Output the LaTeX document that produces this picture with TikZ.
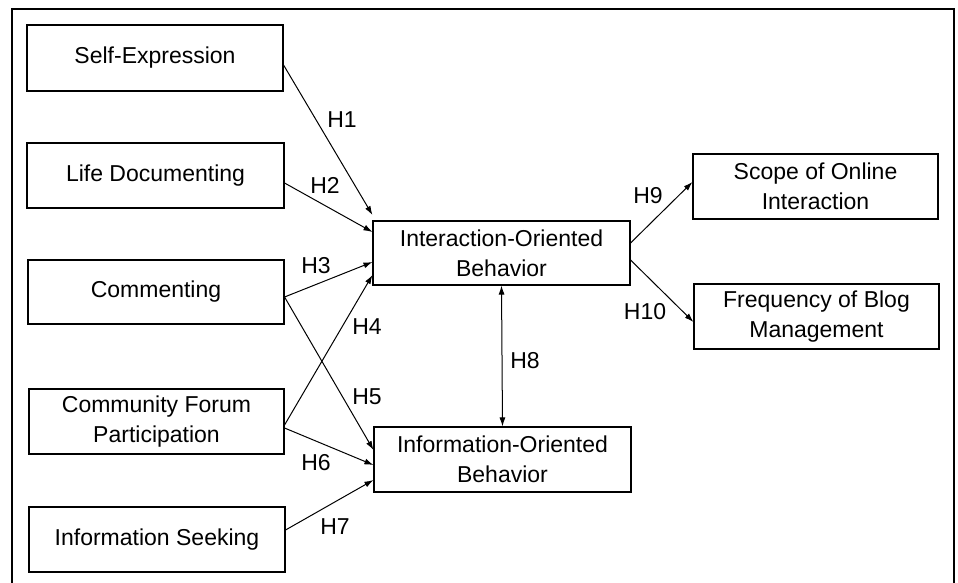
\documentclass[tikz,border=0pt]{standalone}
\usepackage{fontspec}
\setmainfont{Liberation Sans}
\usetikzlibrary{arrows.meta}
\begin{document}
\begin{tikzpicture}[x=1pt,y=-1pt,
  box/.style={draw, line width=1.1pt, inner sep=0pt, align=center,
    font=\fontsize{23}{30}\selectfont},
  lab/.style={font=\fontsize{23}{30}\selectfont, inner sep=0pt},
  arr/.style={line width=1pt, -{Latex[length=9pt,width=6pt]}},
  darr/.style={line width=1pt, {Latex[length=9pt,width=6pt]}-{Latex[length=9pt,width=6pt]}}]
\useasboundingbox (0,0) rectangle (958,583);
% outer frame
\draw[line width=1.4pt] (12,590) -- (12,9) -- (954,9) -- (954,590);
% boxes
\node[box, minimum width=256pt, minimum height=66pt] (se) at (155,58) {Self-Expression};
\node[box, minimum width=257pt, minimum height=65pt] (ld) at (155.5,175.5) {Life Documenting};
\node[box, minimum width=256pt, minimum height=64pt] (cm) at (156,292) {Commenting};
\node[box, minimum width=255pt, minimum height=65pt] (cf) at (156.5,421.5) {Community Forum\\Participation};
\node[box, minimum width=256pt, minimum height=65pt] (is) at (157,539.5) {Information Seeking};
\node[box, minimum width=257pt, minimum height=64pt] (io) at (501.5,253) {Interaction-Oriented\\Behavior};
\node[box, minimum width=257pt, minimum height=65pt] (ib) at (502.5,459.5) {Information-Oriented\\Behavior};
\node[box, minimum width=245pt, minimum height=65pt] (sc) at (815.5,186.5) {Scope of Online\\Interaction};
\node[box, minimum width=245pt, minimum height=65pt] (fb) at (816.5,316.5) {Frequency of Blog\\Management};
% connectors
\draw[arr] ([yshift=-7pt]se.east) -- ([yshift=38pt]io.west);
\draw[arr] ([yshift=-7.5pt]ld.east) -- ([yshift=21pt]io.west);
\draw[arr] ([yshift=-5pt]cm.east) -- ([yshift=-9pt]io.west);
\draw[arr] ([yshift=-3.5pt]cf.east) -- ([yshift=-22pt]io.west);
\draw[arr] ([yshift=-5pt]cm.east) -- ([yshift=9.5pt]ib.west);
\draw[arr] ([yshift=-6.5pt]cf.east) -- ([yshift=-5.5pt]ib.west);
\draw[arr] ([yshift=9.5pt]is.east) -- ([yshift=-20.5pt]ib.west);
\draw[darr] (io.south) -- (ib.north);
\draw[arr] ([yshift=10pt]io.east) -- ([yshift=4.5pt]sc.west);
\draw[arr] ([yshift=-7pt]io.east) -- ([yshift=-5.5pt]fb.west);
% labels
\node[lab] (h1) at (342,120) {H1};
\node[lab] (h2) at (325,185) {H2};
\node[lab] (h3) at (316,266) {H3};
\node[lab] (h4) at (367,327) {H4};
\node[lab] (h5) at (367,397) {H5};
\node[lab] (h6) at (316,463) {H6};
\node[lab] (h7) at (335,527) {H7};
\node[lab] (h8) at (525,361) {H8};
\node[lab] (h9) at (648,196) {H9};
\node[lab] (h10) at (645,312) {H10};
\end{tikzpicture}
\end{document}
